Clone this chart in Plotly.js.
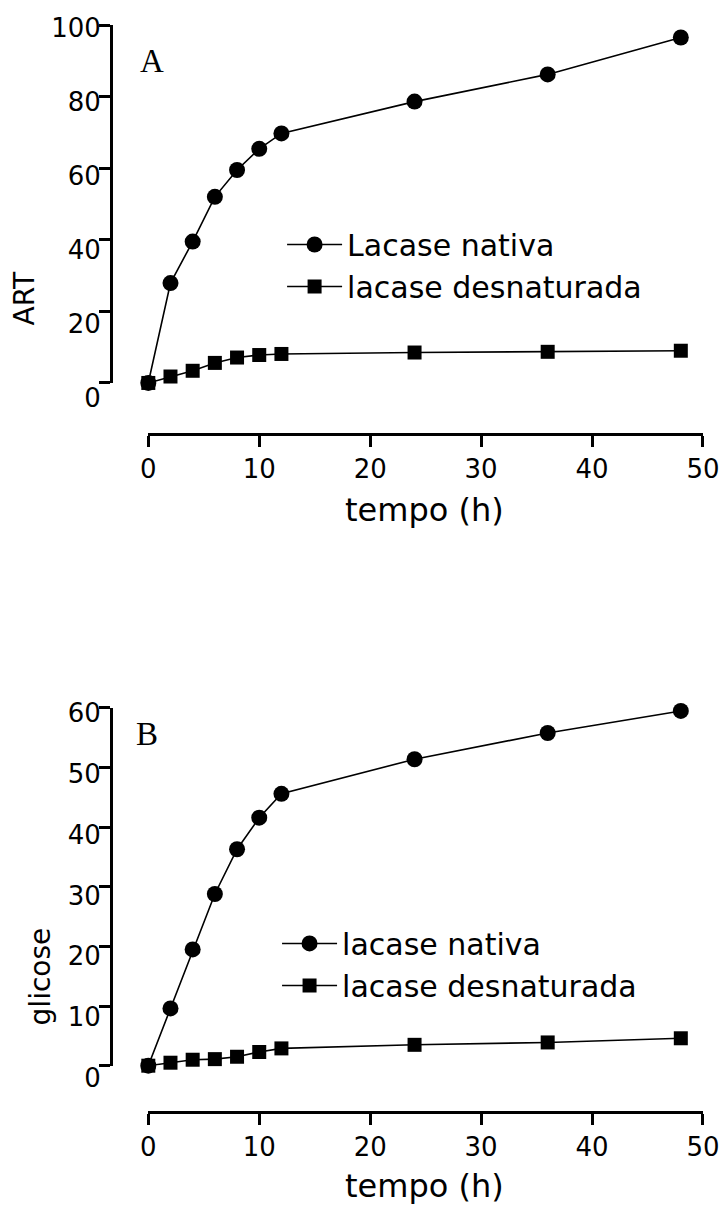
<!DOCTYPE html>
<html>
<head>
<meta charset="utf-8">
<script src="https://cdn.plot.ly/plotly-3.0.1.min.js"></script>
<style>html,body{margin:0;padding:0;background:#fff;}</style>
</head>
<body>
<div id="chart" style="width:726px;height:1205px;"></div>
<script>
// ---- data ----
const tempo = [0, 2, 4, 6, 8, 10, 12, 24, 36, 48];
const artNativa = [0, 27.9, 39.5, 52.0, 59.5, 65.4, 69.7, 78.6, 86.2, 96.5];
const artDesnaturada = [0, 1.8, 3.4, 5.6, 7.1, 7.8, 8.1, 8.5, 8.7, 9.0];
const glicoseNativa = [0, 9.6, 19.5, 28.8, 36.3, 41.6, 45.6, 51.4, 55.8, 59.5];
const glicoseDesnaturada = [0, 0.5, 1.0, 1.1, 1.5, 2.3, 2.9, 3.5, 3.9, 4.6];
const xTicks = [0, 10, 20, 30, 40, 50];
const artTicks = [0, 20, 40, 60, 80, 100];
const glicoseTicks = [0, 10, 20, 30, 40, 50, 60];
const namesA = ["Lacase nativa", "lacase desnaturada"];
const namesB = ["lacase nativa", "lacase desnaturada"];
const panelLabels = ["A", "B"];
const xTitle = "tempo (h)";
const yTitles = ["ART", "glicose"];

const FONT = "DejaVu Sans, Verdana, sans-serif";
const lineStyle = {color: "#000", width: 1.6};
const circ = {symbol: "circle", size: 16, color: "#000"};
const sq = {symbol: "square", size: 14, color: "#000"};

const traces = [
  {x: tempo, y: artNativa, name: namesA[0], mode: "lines+markers", line: lineStyle, marker: circ, xaxis: "x", yaxis: "y", legend: "legend", cliponaxis: false},
  {x: tempo, y: artDesnaturada, name: namesA[1], mode: "lines+markers", line: lineStyle, marker: sq, xaxis: "x", yaxis: "y", legend: "legend", cliponaxis: false},
  {x: tempo, y: glicoseNativa, name: namesB[0], mode: "lines+markers", line: lineStyle, marker: circ, xaxis: "x2", yaxis: "y2", legend: "legend2", cliponaxis: false},
  {x: tempo, y: glicoseDesnaturada, name: namesB[1], mode: "lines+markers", line: lineStyle, marker: sq, xaxis: "x2", yaxis: "y2", legend: "legend2", cliponaxis: false},
  // carriers for tick-label axes
  {x: [], y: [], xaxis: "x", yaxis: "y3", showlegend: false, hoverinfo: "skip"},
  {x: [], y: [], xaxis: "x2", yaxis: "y4", showlegend: false, hoverinfo: "skip"}
];

const xCommon = {
  range: [0, 50], domain: [0.063, 1], anchor: "free",
  tickvals: xTicks, ticks: "outside", ticklen: 11, tickwidth: 3, tickcolor: "#000",
  showline: true, linewidth: 3, linecolor: "#000",
  showgrid: false, zeroline: false,
  tickfont: {family: FONT, size: 26, color: "#000"}
};
const yLineCommon = {
  anchor: "free", position: 0, ticks: "outside", ticklen: 11, tickwidth: 3, tickcolor: "#000",
  showline: true, linewidth: 3, linecolor: "#000", showgrid: false, zeroline: false,
  showticklabels: false
};
const yLabelCommon = {
  anchor: "free", position: 0, ticks: "outside", ticklen: 11, tickwidth: 3, tickcolor: "rgba(0,0,0,0)",
  showline: false, showgrid: false, zeroline: false, showticklabels: true, ticklabelstandoff: -6,
  tickfont: {family: FONT, size: 26, color: "#000"}
};

const layout = {
  width: 726, height: 1205,
  margin: {l: 111, r: 23, t: 25, b: 93},
  paper_bgcolor: "#fff", plot_bgcolor: "rgba(0,0,0,0)",
  showlegend: true,
  xaxis: Object.assign({}, xCommon, {position: 0.6237}),
  xaxis2: Object.assign({}, xCommon, {position: 0}),
  yaxis: Object.assign({}, yLineCommon, {domain: [0.6707, 1], range: [0, 100], tickvals: artTicks}),
  yaxis2: Object.assign({}, yLineCommon, {domain: [0.0426, 0.3717], range: [0, 60], tickvals: glicoseTicks}),
  yaxis3: Object.assign({}, yLabelCommon, {domain: [0.6569, 0.9972], range: [0, 100], tickvals: artTicks}),
  yaxis4: Object.assign({}, yLabelCommon, {domain: [0.0313, 0.3671], range: [0, 60], tickvals: glicoseTicks}),
  legend: {x: 0.289, y: 0.822, xanchor: "left", yanchor: "top", bgcolor: "rgba(0,0,0,0)", borderwidth: 0,
           itemwidth: 55, font: {family: FONT, size: 30, color: "#000"}},
  legend2: {x: 0.2805, y: 0.179, xanchor: "left", yanchor: "top", bgcolor: "rgba(0,0,0,0)", borderwidth: 0,
           itemwidth: 55, font: {family: FONT, size: 30, color: "#000"}},
  annotations: [
    {text: panelLabels[0], xref: "paper", yref: "paper", x: 0.0693, y: 0.9673, xanchor: "center", yanchor: "middle", showarrow: false,
     font: {family: "Liberation Serif, Times New Roman, serif", size: 33, color: "#000"}},
    {text: panelLabels[1], xref: "paper", yref: "paper", x: 0.0609, y: 0.3477, xanchor: "center", yanchor: "middle", showarrow: false,
     font: {family: "Liberation Serif, Times New Roman, serif", size: 33, color: "#000"}},
    {text: yTitles[0], xref: "paper", yref: "paper", x: -0.1453, y: 0.7493, xanchor: "center", yanchor: "middle", textangle: -90, showarrow: false,
     font: {family: FONT, size: 28, color: "#000"}},
    {text: yTitles[1], xref: "paper", yref: "paper", x: -0.12, y: 0.1247, xanchor: "center", yanchor: "middle", textangle: -90, showarrow: false,
     font: {family: FONT, size: 28, color: "#000"}},
    {text: xTitle, xref: "paper", yref: "paper", x: 0.529, y: 0.5538, xanchor: "center", yanchor: "middle", showarrow: false,
     font: {family: FONT, size: 32, color: "#000"}},
    {text: xTitle, xref: "paper", yref: "paper", x: 0.529, y: -0.0681, xanchor: "center", yanchor: "middle", showarrow: false,
     font: {family: FONT, size: 32, color: "#000"}}
  ]
};

Plotly.newPlot("chart", traces, layout, {staticPlot: true, displayModeBar: false});
</script>
</body>
</html>
